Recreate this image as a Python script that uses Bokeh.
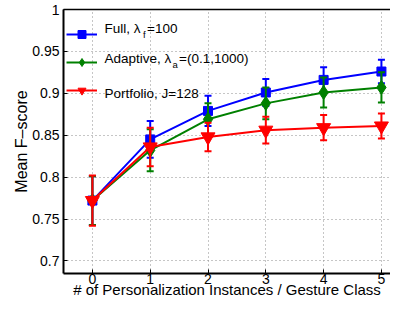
from bokeh.plotting import figure
from bokeh.models import (ColumnDataSource, FixedTicker, LinearAxis, Legend,
                          LegendItem, Label, Range1d)
from bokeh.embed import file_html
from bokeh.resources import INLINE

# ---- data ----
x_vals = [0, 1, 2, 3, 4, 5]
full_mean = [0.772, 0.845, 0.879, 0.901, 0.916, 0.926]
full_err = [0.029, 0.022, 0.018, 0.016, 0.015, 0.014]
adapt_mean = [0.772, 0.832, 0.869, 0.888, 0.901, 0.907]
adapt_err = [0.029, 0.025, 0.019, 0.019, 0.018, 0.018]
port_mean = [0.772, 0.836, 0.848, 0.856, 0.859, 0.861]
port_err = [0.030, 0.023, 0.017, 0.016, 0.015, 0.015]

x_ticks = [0, 1, 2, 3, 4, 5]
y_ticks = [0.7, 0.75, 0.8, 0.85, 0.9, 0.95, 1.0]
y_tick_labels = ["0.7", "0.75", "0.8", "0.85", "0.9", "0.95", "1"]

x_label = "# of Personalization Instances / Gesture Class"
y_label = "Mean F\u2013score"

FONT = "Liberation Sans"

# ---- figure ----
p = figure(width=390, height=300, output_backend="svg", toolbar_location=None,
           x_range=Range1d(-0.5, 5.157), y_range=Range1d(0.685, 1.0),
           min_border_left=63, min_border_right=0, min_border_top=9,
           min_border_bottom=0)
p.outline_line_color = None
p.background_fill_color = "white"
p.border_fill_color = "white"

p.xaxis.ticker = FixedTicker(ticks=x_ticks)
p.yaxis.ticker = FixedTicker(ticks=y_ticks)
p.yaxis.major_label_overrides = {t: s for t, s in zip(y_ticks, y_tick_labels)}
p.xgrid.ticker = FixedTicker(ticks=x_ticks)
p.ygrid.ticker = FixedTicker(ticks=y_ticks)
p.grid.grid_line_color = "#8c8c8c"
p.grid.grid_line_dash = "1 3"
p.grid.grid_line_width = 1

for ax in (p.xaxis[0], p.yaxis[0]):
    ax.axis_line_color = "black"
    ax.axis_line_width = 2
    ax.major_tick_in = 4
    ax.major_tick_out = 0
    ax.minor_tick_in = 0
    ax.minor_tick_out = 0
    ax.major_tick_line_color = "black"
    ax.major_label_text_font = FONT
    ax.major_label_text_font_size = "14px"
    ax.major_label_text_color = "black"
    ax.axis_label_text_font = FONT
    ax.axis_label_text_font_style = "normal"
    ax.axis_label_text_color = "black"

p.xaxis.axis_label = x_label
p.xaxis.major_label_standoff = 0
p.xaxis.axis_label_standoff = -6
p.xaxis.axis_label_text_font_size = "15px"
p.yaxis.axis_label = y_label
p.yaxis.major_label_standoff = 4
p.yaxis.axis_label_standoff = -1
p.yaxis.axis_label_text_font_size = "16px"

top_ax = LinearAxis(ticker=FixedTicker(ticks=[]), major_label_standoff=0,
                    major_tick_in=0, major_tick_out=0, minor_tick_in=0,
                    minor_tick_out=0, axis_line_color="black",
                    axis_line_width=1.5)
p.add_layout(top_ax, "above")

# ---- series ----
series = [
    (full_mean, full_err, "#0000ff", "square", 9),
    (adapt_mean, adapt_err, "#008000", "diamond", 14),
    (port_mean, port_err, "#ff0000", "inverted_triangle", 14),
]
legend_items = []
for mean, err, color, marker, size in series:
    src = ColumnDataSource(dict(
        x=x_vals, y=mean,
        upper=[m + e for m, e in zip(mean, err)],
        lower=[m - e for m, e in zip(mean, err)],
    ))
    p.segment(x0="x", y0="lower", x1="x", y1="upper", source=src,
              line_color=color, line_width=2)
    p.scatter(x="x", y="upper", source=src, marker="dash", size=7,
              line_color=color, line_width=2)
    p.scatter(x="x", y="lower", source=src, marker="dash", size=7,
              line_color=color, line_width=2)
    ln = p.line(x="x", y="y", source=src, line_color=color, line_width=2)
    mk = p.scatter(x="x", y="y", source=src, marker=marker, size=size,
                   fill_color=color, line_color=color)
    legend_items.append(LegendItem(label=" ", renderers=[ln, mk]))

legend = Legend(items=legend_items, location=(3, 173), glyph_width=31,
                glyph_height=20, label_height=20, spacing=8, padding=0,
                margin=0, border_line_alpha=0, background_fill_alpha=0,
                label_text_font_size="13.5px", label_width=0)
p.add_layout(legend)

# ---- legend texts (page-pixel layout converted to data units) ----
PXX = 57.8
FRAME_LEFT, FRAME_TOP, FRAME_H = 64, 13, 259.0


def dx(px):
    return -0.5 + (px - FRAME_LEFT) / PXX


def dy(py):
    return 1.0 - (py - FRAME_TOP) * 0.315 / FRAME_H


texts = [
    ("Full, \u03bb", 105, 32, "13.5px"),
    ("f", 143.5, 38, "9.5px"),
    ("=100", 147.5, 32, "13.5px"),
    ("Adaptive, \u03bb", 105, 61.5, "13.5px"),
    ("a", 173, 67, "9.5px"),
    ("=(0.1,1000)", 179.5, 61.5, "13.5px"),
    ("Portfolio, J=128", 105, 95, "13.5px"),
]
for t, px, py, fs in texts:
    p.add_layout(Label(x=dx(px), y=dy(py), text=t, text_font=FONT,
                       text_font_size=fs, text_color="black",
                       text_align="left", text_baseline="alphabetic"))

open("out.html", "w").write(file_html(p, INLINE))
